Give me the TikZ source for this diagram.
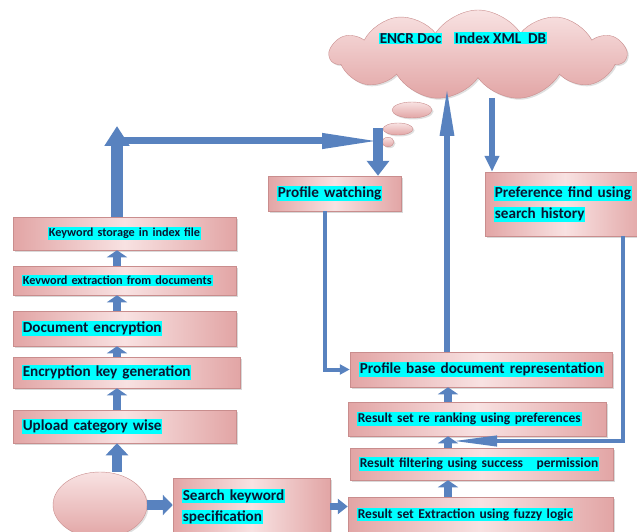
\documentclass[tikz,border=0pt]{standalone}
\usepackage{fontspec}
\setmainfont{Carlito}
\usetikzlibrary{arrows.meta,positioning,calc,shapes,shadows}
\definecolor{pinkD}{HTML}{E2A5A5}
\definecolor{pinkL}{HTML}{F8E2E2}
\definecolor{pinkE}{HTML}{C98D8D}
\definecolor{arrowB}{HTML}{5882BF}
\definecolor{hlcyan}{HTML}{00FFFF}
\definecolor{inkD}{HTML}{0B1630}
\newcommand{\hl}[1]{{\setlength{\fboxsep}{0.8pt}\colorbox{hlcyan}{#1}}}
\newcommand{\fsL}{\fontsize{15.2}{21}\selectfont}
\newcommand{\fsM}{\fontsize{13.5}{17}\selectfont}
\newcommand{\fsS}{\fontsize{12.2}{15}\selectfont}
\tikzset{stage/.style={rectangle, draw=pinkE, line width=0.5pt, left color=pinkD, right color=pinkD, middle color=pinkL, drop shadow={shadow xshift=1.5pt, shadow yshift=-1.5pt, opacity=0.3}, inner xsep=9pt, inner ysep=0pt, align=left, text=inkD, font=\bfseries\fsL},
	stageM/.style={stage, font=\bfseries\fsM},
	stageS/.style={stage, font=\bfseries\fsS},
	blob/.style={draw=pinkE, line width=0.4pt, top color=pinkL, bottom color=pinkD, drop shadow={shadow xshift=1.5pt, shadow yshift=-1.5pt, opacity=0.25}},
	blk/.style={draw=arrowB, line width=#1},
	stub/.style={draw=arrowB, line width=8pt, -{Triangle[length=7pt,width=20pt]}}}

\begin{document}
\begin{tikzpicture}[x=1pt,y=-1pt]
	\useasboundingbox (0,0) rectangle (637,532);
	% data store
	\node[blob, cloud, cloud puffs=11, cloud puff arc=115, aspect=3.2, minimum width=296pt, minimum height=90pt] (db) at (478,55) {};
	\node[text=inkD, font=\bfseries\fsL, inner sep=0pt] (dbtext) at (463,38) {\hl{ENCR Doc}\hspace{12pt}\hl{Index XML\ \ DB}};
	\node[blob, ellipse, minimum width=40pt, minimum height=16pt] (bub1) at (412,110) {};
	\node[blob, ellipse, minimum width=30pt, minimum height=12pt] (bub2) at (398,129) {};
	\node[blob, ellipse, minimum width=12pt, minimum height=6pt] (bub3) at (388,142) {};
	% upload side
	\node[stageS, text width=205pt, minimum height=33pt, align=center] (store) at (124.5,233.5) {\hl{Keyword storage in index file}};
	\node[stageS, text width=205pt, minimum height=29pt] (extr) at (124.5,280.5) {\hl{Kevword extraction from documents}};
	\node[stage, text width=205pt, minimum height=35pt] (denc) at (124.5,328.5) {\hl{Document encryption}};
	\node[stage, text width=209pt, minimum height=31pt] (keyg) at (126.5,372.5) {\hl{Encryption key generation}};
	\node[stage, text width=205pt, minimum height=33pt] (upl) at (124.5,426.5) {\hl{Upload category wise}};
	\node[blob, ellipse, minimum width=94pt, minimum height=66pt] (ell) at (100,505) {};
	% search side
	\node[stage, text width=139pt, minimum height=57pt] (search) at (251.5,506.5) {\hl{Search keyword}\\\hl{specification}};
	\node[stage, text width=115pt, minimum height=35pt] (watch) at (334.5,193.5) {\hl{Profile watching}};
	\node[stage, text width=142pt, minimum height=64pt] (pref) at (565,204) {\hl{Preference find using}\\\hl{search history}};
	\node[stage, text width=244pt, minimum height=35pt] (pbase) at (481,369.5) {\hl{Profile base document representation}};
	\node[stageM, text width=240pt, minimum height=34pt] (rank) at (477,419) {\hl{Result set re ranking using\ preferences}};
	\node[stageM, text width=245pt, minimum height=32pt] (filt) at (481.5,464) {\hl{Result filtering using\ success\ \ \ permission}};
	\node[stageM, text width=247pt, minimum height=35pt] (fuzz) at (480.5,514.5) {\hl{Result set Extraction\ using fuzzy logic}};

	\coordinate (lx) at (117,0);
	\coordinate (rx) at (448,0);
	\coordinate (ctl) at (117,126);
	\coordinate (hl0) at (111,141);
	\coordinate (hr0) at (382,141);
	\coordinate (ctr) at (378,128);
	\coordinate (wx) at (325,0);
	\coordinate (cup) at (447,86);
	\coordinate (cdn) at (492,98);
	\coordinate (px) at (623,0);
	\coordinate (pend) at (452,441);

	% connectors
	\draw[blk=10pt, -{Triangle[length=12pt,width=22pt]}] (lx |- ell.north) -- (lx |- upl.south);
	\foreach \a/\b in {upl/keyg, keyg/denc, denc/extr, extr/store}
		\draw[stub] (lx |- \a.north) -- (lx |- \b.south);
	\draw[blk=12pt, -{Triangle[length=20pt,width=24pt]}] (lx |- store.north) -- (ctl);
	\draw[blk=7pt, -{Triangle[length=60pt,width=14pt]}] (hl0) -- (hr0);
	\draw[blk=10pt, -{Triangle[length=15pt,width=22pt]}] (ctr) -- (ctr |- watch.north);
	\draw[blk=4pt, -{Triangle[length=10pt,width=10pt]}] (wx |- watch.south) |- (pbase.west);
	\draw[blk=6pt, -{Triangle[length=50pt,width=13pt]}] (cup |- pbase.north) -- (cup);
	\draw[blk=6pt, -{Triangle[length=16pt,width=14pt]}] (cdn) -- (cdn |- pref.north);
	\draw[blk=4pt, -{Triangle[length=45pt,width=10pt]}] (px |- pref.south) |- (pend);
	\foreach \a/\b in {fuzz/filt, filt/rank, rank/pbase}
		\draw[stub] (rx |- \a.north) -- (rx |- \b.south);
	\draw[blk=10pt, -{Triangle[length=10pt,width=20pt]}] (ell.east) -- (search.west |- ell.east);
	\draw[blk=7pt, -{Triangle[length=10pt,width=15pt]}] (search.east) -- (fuzz.west |- search.east);
\end{tikzpicture}
\end{document}
